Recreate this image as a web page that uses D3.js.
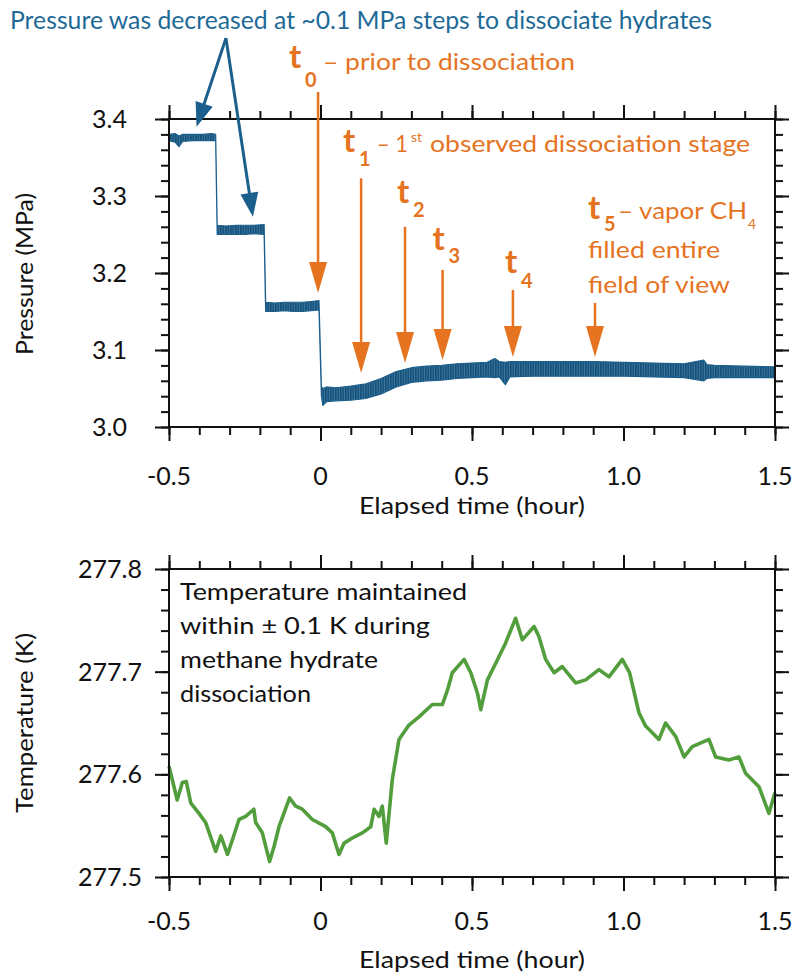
<!DOCTYPE html>
<html><head><meta charset="utf-8">
<script src="https://cdn.jsdelivr.net/npm/d3@7"></script>
<style>html,body{margin:0;padding:0;background:#fff;} svg{display:block;font-family:Lato, "Open Sans", sans-serif;}</style>
</head><body>
<script>
// ---------- DATA ----------
// Pressure (MPa): time in hours, lower & upper edge of the oscillating trace
const pTime = [-0.500,-0.480,-0.467,-0.455,-0.420,-0.390,-0.360,-0.346,-0.341,-0.310,-0.280,-0.250,-0.220,-0.186,-0.181,-0.150,-0.120,-0.090,-0.060,-0.030,-0.005,0.003,0.008,0.020,0.050,0.100,0.150,0.200,0.250,0.300,0.350,0.400,0.450,0.500,0.550,0.575,0.590,0.610,0.625,0.700,0.800,0.900,1.000,1.100,1.200,1.265,1.275,1.300,1.400,1.500];
const pLow  = [3.372,3.370,3.364,3.371,3.372,3.372,3.372,3.372,3.250,3.250,3.250,3.250,3.251,3.250,3.150,3.150,3.151,3.150,3.150,3.151,3.152,3.040,3.028,3.033,3.034,3.035,3.037,3.043,3.052,3.058,3.060,3.061,3.063,3.064,3.065,3.064,3.065,3.055,3.065,3.066,3.066,3.066,3.066,3.065,3.064,3.060,3.063,3.064,3.064,3.064];
const pHigh = [3.380,3.381,3.378,3.380,3.380,3.380,3.381,3.380,3.262,3.261,3.262,3.262,3.262,3.263,3.162,3.161,3.162,3.162,3.162,3.163,3.164,3.052,3.050,3.052,3.051,3.053,3.056,3.063,3.072,3.077,3.079,3.080,3.082,3.083,3.084,3.089,3.085,3.084,3.085,3.085,3.085,3.085,3.084,3.083,3.082,3.087,3.081,3.080,3.079,3.078];

// Temperature (K)
const tTime = [-0.500,-0.473,-0.456,-0.443,-0.428,-0.401,-0.379,-0.346,-0.329,-0.307,-0.291,-0.269,-0.247,-0.220,-0.214,-0.192,-0.168,-0.153,-0.137,-0.102,-0.082,-0.060,-0.027,0.017,0.039,0.061,0.078,0.105,0.138,0.166,0.177,0.193,0.204,0.217,0.237,0.259,0.292,0.325,0.369,0.402,0.419,0.435,0.474,0.496,0.518,0.529,0.551,0.578,0.611,0.644,0.666,0.705,0.721,0.743,0.771,0.798,0.842,0.875,0.919,0.952,0.996,1.020,1.051,1.073,1.117,1.139,1.172,1.200,1.227,1.282,1.304,1.348,1.381,1.403,1.447,1.480,1.500];
const tempK = [277.608,277.575,277.592,277.593,277.572,277.562,277.553,277.525,277.540,277.522,277.536,277.556,277.559,277.566,277.553,277.543,277.515,277.530,277.549,277.577,277.569,277.566,277.556,277.549,277.543,277.522,277.533,277.538,277.543,277.549,277.566,277.559,277.569,277.533,277.595,277.634,277.648,277.656,277.668,277.668,277.682,277.699,277.712,277.699,277.679,277.663,277.692,277.708,277.728,277.752,277.731,277.744,277.734,277.712,277.699,277.705,277.689,277.692,277.702,277.695,277.712,277.699,277.660,277.647,277.634,277.650,277.637,277.617,277.627,277.634,277.617,277.614,277.617,277.601,277.588,277.562,277.582];

// Axis ticks
const xMajor = [-0.5, 0, 0.5, 1.0, 1.5];
const xLabels = ["-0.5", "0", "0.5", "1.0", "1.5"];
const pMajor = [3.0, 3.1, 3.2, 3.3, 3.4];
const pLabels = ["3.0", "3.1", "3.2", "3.3", "3.4"];
const tMajor = [277.5, 277.6, 277.7, 277.8];
const tLabels = ["277.5", "277.6", "277.7", "277.8"];

// Observation markers: time (h), arrow start pressure, arrow tip pressure
const stageNames = ["0", "1", "2", "3", "4", "5"];
const stageTime  = [-0.008, 0.134, 0.279, 0.403, 0.635, 0.906];
const stageStart = [3.435, 3.323, 3.260, 3.204, 3.178, 3.161];
const stageTip   = [3.174, 3.070, 3.083, 3.087, 3.091, 3.091];

// ---------- DRAW ----------
const W = 795, H = 978;
const svg = d3.select("body").append("svg").attr("width", W).attr("height", H);
const BLUE = "#1b5f8c", BLUE_T = "#1e6a97", ORANGE = "#e5731f", GREEN = "#529e3c";

// vertical-stripe texture for the rapidly oscillating pressure trace
const pat = svg.append("defs").append("pattern").attr("id", "osc").attr("patternUnits", "userSpaceOnUse")
  .attr("width", 2.5).attr("height", 10);
pat.append("rect").attr("width", 2.5).attr("height", 10).attr("fill", "#3d7aa3");
pat.append("rect").attr("width", 1.6).attr("height", 10).attr("fill", "#164f78");

const x1 = d3.scaleLinear([-0.5, 1.5], [169, 775]);
const y1 = d3.scaleLinear([3.0, 3.4], [427, 119]);
const x2 = d3.scaleLinear([-0.5, 1.5], [169, 775]);
const y2 = d3.scaleLinear([277.5, 277.8], [877, 569]);

function minor(lo, hi, step) { const a = []; const n = Math.round((hi - lo) / step); for (let i = 0; i <= n; i++) a.push(+(lo + i * step).toFixed(4)); return a; }

function frame(x, y, xMin, yMin, yLabels, yMaj, yLabelX, xLabelY) {
  const g = svg.append("g");
  const [xl, xr] = x.range(); const [yb, yt] = y.range();
  const bigT = 14, smallT = 8;
  const axes = [
    [d3.axisBottom(x), `translate(0,${yb})`, xMin, xMajor],
    [d3.axisTop(x), `translate(0,${yt})`, xMin, xMajor],
    [d3.axisLeft(y), `translate(${xl},0)`, yMin, yMaj],
    [d3.axisRight(y), `translate(${xr},0)`, yMin, yMaj]
  ];
  axes.forEach(([ax, tr, mn, mj]) => {
    const a1 = g.append("g").attr("transform", tr).call(ax.tickValues(mn).tickSize(smallT).tickSizeOuter(0).tickFormat(""));
    const a2 = g.append("g").attr("transform", tr).call(ax.tickValues(mj).tickSize(bigT).tickSizeOuter(0).tickFormat(""));
    [a1, a2].forEach(a => { a.selectAll("path").remove(); a.selectAll("line").attr("stroke", "#111").attr("stroke-width", 2); });
  });
  g.append("rect").attr("x", xl).attr("y", yt).attr("width", xr - xl).attr("height", yb - yt)
    .attr("fill", "none").attr("stroke", "#111").attr("stroke-width", 2);
  g.selectAll(".xl").data(xMajor).join("text").attr("x", d => x(d)).attr("y", xLabelY)
    .attr("text-anchor", "middle").attr("font-size", 25).attr("fill", "#111").text((d, i) => xLabels[i]);
  g.selectAll(".yl").data(yMaj).join("text").attr("x", yLabelX).attr("y", d => y(d) + 9)
    .attr("text-anchor", "end").attr("font-size", 25).attr("fill", "#111").text((d, i) => yLabels[i]);
}

// Top panel
const pData = pTime.map((t, i) => ({ t, lo: pLow[i], hi: pHigh[i] }));
svg.append("path").datum(pData)
  .attr("d", d3.area().x(d => x1(d.t)).y0(d => y1(d.lo)).y1(d => y1(d.hi)))
  .attr("fill", "url(#osc)").attr("stroke", BLUE).attr("stroke-width", 1.2).attr("stroke-linejoin", "round");
frame(x1, y1, minor(-0.5, 1.5, 0.1), minor(3.0, 3.4, 0.02), pLabels, pMajor, 127, 485);

// Bottom panel
const tData = tTime.map((t, i) => ({ t, v: tempK[i] }));
svg.append("path").datum(tData)
  .attr("d", d3.line().x(d => x2(d.t)).y(d => y2(d.v)))
  .attr("fill", "none").attr("stroke", GREEN).attr("stroke-width", 3.6).attr("stroke-linejoin", "round");
frame(x2, y2, minor(-0.5, 1.5, 0.1), minor(277.5, 277.8, 0.02), tLabels, tMajor, 142, 930);

// Axis titles
function txt(x, y, s, size, opts = {}) {
  const t = svg.append("text").attr("x", x).attr("y", y).attr("font-size", size).attr("fill", opts.fill || "#111").text(s);
  if (opts.anchor) t.attr("text-anchor", opts.anchor);
  if (opts.len) t.attr("textLength", opts.len).attr("lengthAdjust", "spacingAndGlyphs");
  if (opts.weight) t.attr("font-weight", opts.weight);
  if (opts.rot) t.attr("transform", `rotate(-90,${x},${y})`);
  return t;
}
txt(472, 514, "Elapsed time (hour)", 24, { anchor: "middle", len: 226 });
txt(472, 968, "Elapsed time (hour)", 24, { anchor: "middle", len: 226 });
txt(33, 274, "Pressure (MPa)", 24, { anchor: "middle", len: 162, rot: true });
txt(33, 723, "Temperature (K)", 24, { anchor: "middle", len: 180, rot: true });

// Blue annotation
txt(10, 29, "Pressure was decreased at ~0.1 MPa steps to dissociate hydrates", 25, { fill: BLUE_T, len: 702 });
function arrow(x0, y0, x1p, y1p, color, w, headL, headW) {
  const dx = x1p - x0, dy = y1p - y0, L = Math.hypot(dx, dy), ux = dx / L, uy = dy / L;
  const bx = x1p - ux * headL, by = y1p - uy * headL;
  svg.append("line").attr("x1", x0).attr("y1", y0).attr("x2", bx + ux * 2).attr("y2", by + uy * 2)
    .attr("stroke", color).attr("stroke-width", w);
  svg.append("path").attr("d", `M${x1p},${y1p}L${bx - uy * headW / 2},${by + ux * headW / 2}L${bx + uy * headW / 2},${by - ux * headW / 2}Z`)
    .attr("fill", color);
}
const apexT = -0.312, apexP = 3.505;
arrow(x1(apexT), y1(apexP), x1(-0.409), y1(3.390), BLUE, 3, 24, 18);
arrow(x1(apexT), y1(apexP), x1(-0.223), y1(3.273), BLUE, 3, 24, 18);

// Orange stage arrows + labels
const labelOff = [[-29, 68, 19], [-18, 152, 14], [-8, 203, 14], [-10, 250, 13], [-8, 273, 15], [-7, 219, 12]];
stageTime.forEach((t, i) => {
  arrow(x1(t), y1(stageStart[i]), x1(t), y1(stageTip[i]), ORANGE, 2.5, 31, 18);
  const lx = x1(t) + labelOff[i][0], ly = labelOff[i][1];
  txt(lx, ly, "t", 33, { fill: ORANGE, weight: "bold" });
  txt(lx + 16, ly + labelOff[i][2], stageNames[i], 20, { fill: ORANGE, weight: "bold" });
});
txt(323, 70, "– prior to dissociation", 24, { fill: ORANGE, len: 252 });
txt(377, 152, "– 1", 24, { fill: ORANGE, len: 31 });
txt(411, 142, "st", 14, { fill: ORANGE, len: 11 });
txt(430, 152, "observed dissociation stage", 24, { fill: ORANGE, len: 320 });
txt(618, 219, "– vapor CH", 24, { fill: ORANGE, len: 129 });
txt(748, 229, "4", 14, { fill: ORANGE });
txt(588, 258, "filled entire", 24, { fill: ORANGE, len: 132 });
txt(588, 293, "field of view", 24, { fill: ORANGE, len: 142 });

// Temperature note
txt(180, 600, "Temperature maintained", 23, { len: 287 });
txt(180, 634, "within ± 0.1 K during", 23, { len: 250 });
txt(180, 668, "methane hydrate", 23, { len: 198 });
txt(180, 702, "dissociation", 23, { len: 131 });
</script>
</body></html>
